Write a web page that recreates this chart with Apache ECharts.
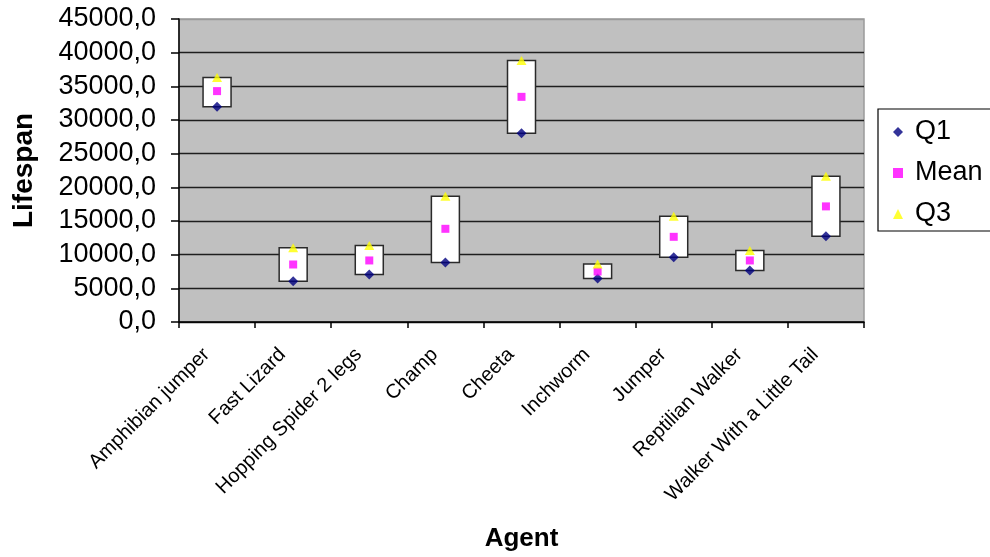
<!DOCTYPE html>
<html>
<head>
<meta charset="utf-8">
<script src="https://cdn.jsdelivr.net/npm/echarts@6/dist/echarts.min.js"></script>
<style>
  html, body { margin: 0; padding: 0; background: #ffffff; }
  #chart { width: 990px; height: 557px; }
</style>
</head>
<body>
<div id="chart"></div>
<script>
// Agents and their lifespan statistics
var categories = ['Amphibian jumper', 'Fast Lizard', 'Hopping Spider 2 legs', 'Champ', 'Cheeta',
                  'Inchworm', 'Jumper', 'Reptilian Walker', 'Walker With a Little Tail'];
var q1Values   = [31950, 6060, 7050, 8840, 28040, 6460, 9630, 7650, 12750];
var meanValues = [34290, 8540, 9140, 13840, 33440, 7500, 12650, 9140, 17170];
var q3Values   = [36310, 11010, 11370, 18660, 38840, 8630, 15690, 10630, 21640];
var yTicks     = [0, 5000, 10000, 15000, 20000, 25000, 30000, 35000, 40000, 45000];

var FONT = '"Liberation Sans", Arial, sans-serif';

// Q1..Q3 range boxes, one per agent
var boxData = categories.map(function (c, i) { return [i, q1Values[i], q3Values[i]]; });

// gridlines are dark, the topmost one doubles as the grey plot border
var gridColors = yTicks.map(function (v, i) { return i === yTicks.length - 1 ? '#9a9a9a' : '#1e1e1e'; });

var chart = echarts.init(document.getElementById('chart'), null, { renderer: 'canvas' });

chart.setOption({
  animation: false,
  backgroundColor: '#ffffff',
  textStyle: { fontFamily: FONT },
  grid: {
    left: 179, right: 126, top: 19, bottom: 235,
    show: true, backgroundColor: '#c0c0c0', borderColor: '#9a9a9a', borderWidth: 1.5
  },
  legend: {
    orient: 'vertical',
    left: 878, top: 109,
    padding: [9, 40, 3, 15],
    itemGap: 13,
    itemWidth: 10, itemHeight: 10,
    borderColor: '#000000', borderWidth: 1.2,
    backgroundColor: '#ffffff',
    textStyle: { fontFamily: FONT, fontSize: 27, color: '#000000', lineHeight: 28, padding: [0, 0, 0, 7] },
    data: [
      { name: 'Q1', icon: 'diamond' },
      { name: 'Mean', icon: 'rect' },
      { name: 'Q3', icon: 'triangle' }
    ]
  },
  xAxis: {
    type: 'category',
    data: categories,
    boundaryGap: true,
    name: 'Agent',
    nameLocation: 'middle',
    nameGap: 204,
    nameTextStyle: { fontFamily: FONT, fontSize: 26, fontWeight: 'bold', color: '#000000' },
    axisLine: { lineStyle: { color: '#000000', width: 1.5 } },
    axisTick: { show: true, alignWithLabel: false, length: 6, lineStyle: { color: '#000000', width: 1.5 } },
    axisLabel: {
      interval: 0, rotate: 45, margin: 19,
      padding: [0, 15, 0, 0],
      fontFamily: FONT, fontSize: 20, color: '#000000'
    },
    splitLine: { show: false }
  },
  yAxis: {
    type: 'value',
    min: 0, max: 45000, interval: 5000,
    name: 'Lifespan',
    nameLocation: 'middle',
    nameGap: 141,
    nameTextStyle: { fontFamily: FONT, fontSize: 28, fontWeight: 'bold', color: '#000000' },
    axisLine: { show: true, lineStyle: { color: '#000000', width: 1.5 } },
    axisTick: { show: true, inside: false, length: 8, lineStyle: { color: '#000000', width: 1.5 } },
    axisLabel: {
      margin: 23, fontFamily: FONT, fontSize: 27, color: '#000000',
      formatter: function (v) { return yTicks.indexOf(v) >= 0 ? v.toFixed(1).replace('.', ',') : ''; }
    },
    splitLine: { show: true, lineStyle: { color: gridColors, width: 1.3 } }
  },
  series: [
    {
      name: 'range',
      type: 'custom',
      data: boxData,
      z: 1,
      renderItem: function (params, api) {
        var lo = api.coord([api.value(0), api.value(1)]);
        var hi = api.coord([api.value(0), api.value(2)]);
        var w = 28;
        return {
          type: 'rect',
          shape: { x: lo[0] - w / 2, y: hi[1], width: w, height: lo[1] - hi[1] },
          style: { fill: '#ffffff', stroke: '#2a2a2a', lineWidth: 1.5 }
        };
      },
      silent: true
    },
    {
      name: 'Q1', type: 'scatter', data: q1Values, z: 3,
      symbol: 'diamond', symbolSize: [10, 10],
      itemStyle: { color: '#000080' }
    },
    {
      name: 'Mean', type: 'scatter', data: meanValues, z: 3,
      symbol: 'rect', symbolSize: 8,
      itemStyle: { color: '#ff00ff' }
    },
    {
      name: 'Q3', type: 'scatter', data: q3Values, z: 3,
      symbol: 'triangle', symbolSize: [10, 9],
      itemStyle: { color: '#ffff00' }
    }
  ]
});
</script>
</body>
</html>
